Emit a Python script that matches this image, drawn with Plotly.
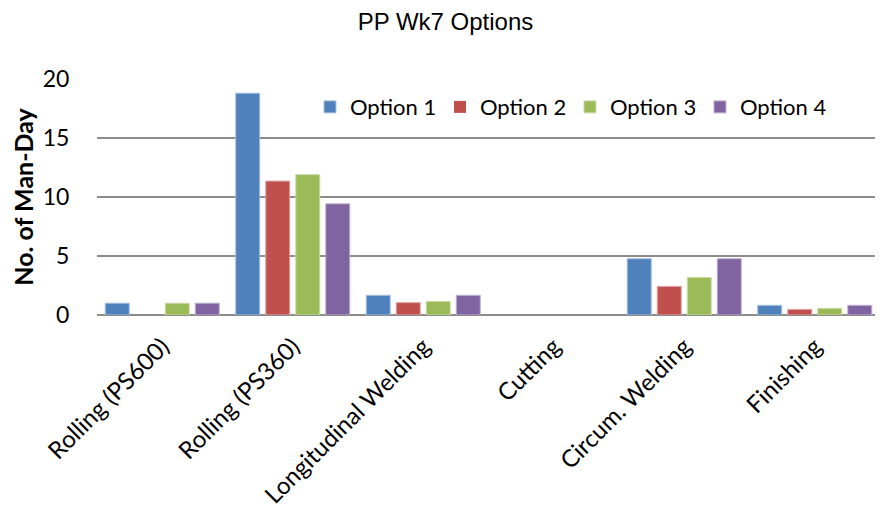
import plotly.graph_objects as go

categories = ["Rolling (PS600)", "Rolling (PS360)", "Longitudinal Welding", "Cutting", "Circum. Welding", "Finishing"]
series_names = ["Option 1", "Option 2", "Option 3", "Option 4"]
option1 = [1.0, 18.8, 1.67, 0, 4.77, 0.82]
option2 = [0, 11.35, 1.05, 0, 2.43, 0.48]
option3 = [1.0, 11.9, 1.15, 0, 3.19, 0.57]
option4 = [1.0, 9.42, 1.67, 0, 4.77, 0.82]
colors = ["#4F81BD", "#C0504D", "#9BBB59", "#8064A2"]
edge_colors = ["#A7C0DE", "#DFA8A6", "#CDDDAC", "#BFB1D0"]

BODY = 8  # default page body margin offset
W, H = 883 - BODY, 513 - BODY

fig = go.Figure()
for name, vals, c, e in zip(series_names, [option1, option2, option3, option4], colors, edge_colors):
    fig.add_trace(go.Bar(
        name=name, x=categories, y=vals,
        marker=dict(color=c, line=dict(color=e, width=[1 if v > 0 else 0 for v in vals])),
    ))

fig.update_layout(
    width=W, height=H,
    margin=dict(l=97 - BODY, r=3, t=79 - BODY, b=198, autoexpand=False),
    paper_bgcolor="white", plot_bgcolor="white",
    barmode="group", bargap=0.08, bargroupgap=0.2,
    font=dict(family="Lato, Carlito, Calibri, sans-serif", color="black", size=21),
    title=dict(text="PP Wk7 Options", x=0.5, xanchor="center",
               y=1 - (22 - BODY) / H, yanchor="middle",
               font=dict(size=24, family="Liberation Sans, Arial, sans-serif")),
    legend=dict(orientation="h", x=0.272, y=0.881, xanchor="left", yanchor="middle",
                font=dict(size=22), bgcolor="rgba(0,0,0,0)", itemwidth=30,
                entrywidth=85, entrywidthmode="pixels", tracegroupgap=0),
    showlegend=True,
)
fig.update_xaxes(tickangle=-45, showgrid=False, showline=False,
                 ticks="outside", ticklen=7, tickcolor="rgba(0,0,0,0)",
                 tickfont=dict(size=24), automargin=False)
fig.update_yaxes(range=[0, 20], dtick=5, showgrid=True, gridcolor="#8C8C8C", gridwidth=2,
                 zeroline=True, zerolinecolor="#8C8C8C", zerolinewidth=2, showline=False,
                 ticks="outside", ticklen=22, tickcolor="rgba(0,0,0,0)",
                 tickfont=dict(size=23), automargin=False,
                 title=dict(text="<b>No. of Man-Day</b>", font=dict(size=25), standoff=8))

fig.write_html("out.html")
